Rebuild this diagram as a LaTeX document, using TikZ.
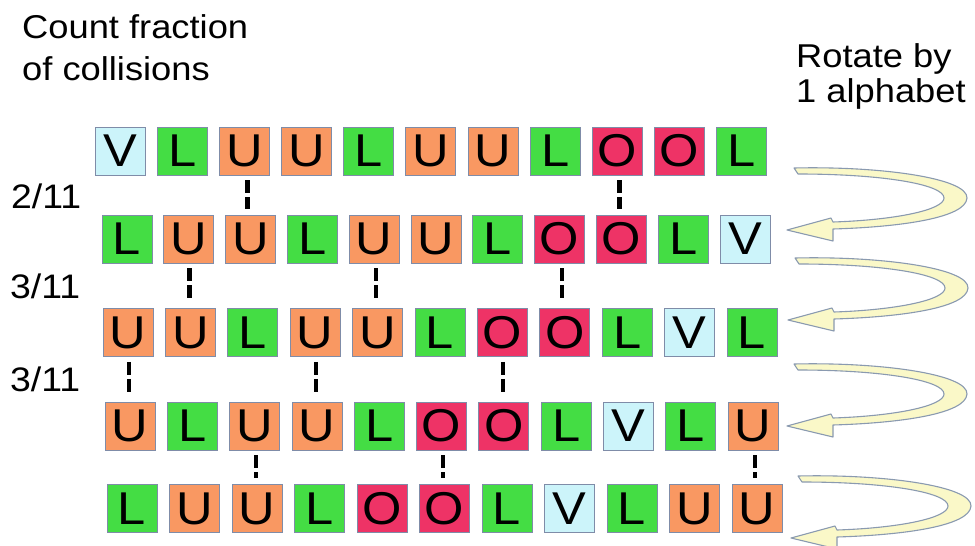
\documentclass[tikz,border=0pt]{standalone}
\usepackage{fontspec}
\setmainfont{Liberation Sans}[FakeStretch=1.1]
\usetikzlibrary{calc}
\definecolor{colV}{HTML}{CCF4FA}
\definecolor{colL}{HTML}{44DD44}
\definecolor{colU}{HTML}{F99862}
\definecolor{colO}{HTML}{EE3366}
\definecolor{edgec}{HTML}{7F8CA8}
\definecolor{arrowfill}{HTML}{FAF8C8}
\definecolor{arrowedge}{HTML}{8A9AB0}
\begin{document}
\begin{tikzpicture}[x=1pt,y=-1pt,
  cell/.style={draw=edgec,line width=0.8pt,minimum width=50pt,minimum height=48pt,inner sep=0pt,font=\fontsize{46}{46}\selectfont},
  hit/.style={line width=4.5pt,dash pattern=on 13pt off 4pt,shorten <=5pt,shorten >=6pt},
  frac/.style={font=\fontsize{34}{34}\selectfont,anchor=west,inner sep=0pt},
  ttl/.style={font=\fontsize{33}{33}\selectfont,anchor=base west,inner sep=0pt},
  rot/.style={fill=arrowfill,draw=arrowedge,line width=1.1pt,line join=round}]
\useasboundingbox (0,0) rectangle (975,546);

% titles
\node[ttl] (t1) at (22,38) {Count fraction};
\node[ttl] (t2) at (22,80) {of collisions};
\node[ttl] (t3) at (796,67) {Rotate by};
\node[ttl] (t4) at (796,102) {1 alphabet};

% fractions
\node[frac] (f1) at (11,196) {2/11};
\node[frac] (f2) at (10,286) {3/11};
\node[frac] (f3) at (10,379) {3/11};

% rows of letters
\foreach \rw/\xo/\pt/\yc/\seq in {%
  1/95/62.17/151/{V,L,U,U,L,U,U,L,O,O,L},
  2/102/61.8/239/{L,U,U,L,U,U,L,O,O,L,V},
  3/103/62.4/332.5/{U,U,L,U,U,L,O,O,L,V,L},
  4/105/62.3/426/{U,L,U,U,L,O,O,L,V,L,U},
  5/107/62.5/508.5/{L,U,U,L,O,O,L,V,L,U,U}}{
  \foreach \l [count=\i] in \seq {
    \node[cell,fill=col\l] (r\rw c\i) at ({\xo+25+(\i-1)*\pt},\yc) {\l};
  }
}

% collisions
\foreach \a/\b/\c in {1/2/3,1/2/9,2/3/2,2/3/5,2/3/8,3/4/1,3/4/4,3/4/7,4/5/3,4/5/6,4/5/11}{
  \coordinate (m) at ($(r\a c\c.south)!0.5!(r\b c\c.north)$);
  \draw[hit] (m |- r\a c\c.south) -- (m |- r\b c\c.north);
}

% rotation arrows
\foreach \dx/\dy in {0/0,1/90,0/196,4/308}{
  \begin{scope}[shift={(\dx,\dy)}]
    \path[rot] (794,168) .. controls (880,166) and (968,178) .. (967,198)
      .. controls (966,218) and (900,227) .. (833,229)
      -- (833,241) -- (787,230) -- (831,218) -- (833,222)
      .. controls (895,220) and (944,210) .. (944,198)
      .. controls (944,184) and (880,174) .. (798,174) -- cycle;
  \end{scope}
}
\end{tikzpicture}
\end{document}
